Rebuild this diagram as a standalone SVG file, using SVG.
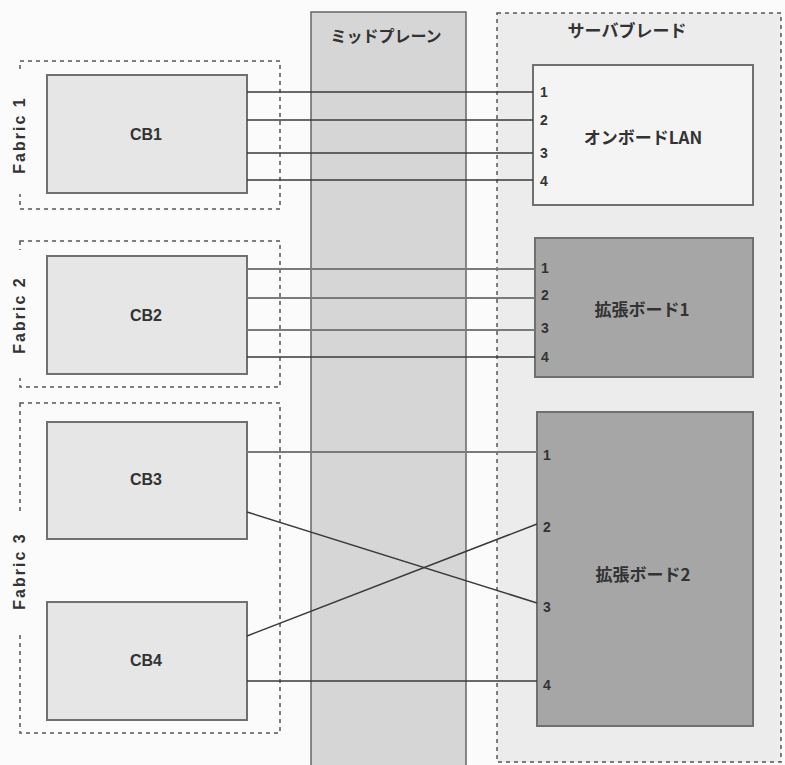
<svg xmlns="http://www.w3.org/2000/svg" width="785" height="765" viewBox="0 0 785 765">
<style>
.fab{fill:none;stroke:#555;stroke-width:1.5;stroke-dasharray:4 4}
.cb{fill:#e6e6e6;stroke:#707070;stroke-width:2}
.ex{fill:#a6a6a6;stroke:#707070;stroke-width:2}
.ln{stroke:#3a3a3a;stroke-width:1.5;fill:none}
.lt{stroke:#7a7a7a;stroke-width:2;fill:none}
.t{font-family:"Liberation Sans","Noto Sans CJK JP",sans-serif;font-weight:bold;fill:#333}
.j{font-family:"Noto Sans CJK JP","Liberation Sans",sans-serif;font-weight:bold;fill:#333;font-size:17px}
.n{font-family:"Liberation Sans",sans-serif;font-weight:bold;fill:#333;font-size:14px}
</style>
<rect width="785" height="765" fill="#fbfbfb"/>
<g id="serverblade">
<rect x="497" y="13" width="284" height="749" fill="#ececec" stroke="#555" stroke-width="1.5" stroke-dasharray="4 4"/>
<text class="j" x="627" y="37" text-anchor="middle" font-size="18">サーバブレード</text>
</g>
<g id="midplane">
<rect x="311" y="12" width="155" height="760" fill="#d6d6d6" stroke="#666" stroke-width="1.5"/>
<text class="j" x="386" y="42" text-anchor="middle" style="font-size:16px">ミッドプレーン</text>
</g>
<g id="fabric1">
<rect class="fab" x="20" y="61" width="260" height="148"/>
<rect x="10" y="72" width="18" height="122" fill="#fbfbfb"/>
<text class="t" font-size="16" letter-spacing="2" transform="translate(25,135) rotate(-90)" text-anchor="middle">Fabric 1</text>
</g>
<g id="fabric2">
<rect class="fab" x="20" y="241" width="260" height="146"/>
<rect x="10" y="250" width="18" height="128" fill="#fbfbfb"/>
<text class="t" font-size="16" letter-spacing="2" transform="translate(25,315) rotate(-90)" text-anchor="middle">Fabric 2</text>
</g>
<g id="fabric3">
<rect class="fab" x="20" y="403" width="260" height="330"/>
<rect x="10" y="513" width="18" height="120" fill="#fbfbfb"/>
<text class="t" font-size="16" letter-spacing="2" transform="translate(25,571) rotate(-90)" text-anchor="middle">Fabric 3</text>
</g>
<g id="cb1"><rect class="cb" x="47" y="75" width="200" height="118"/><text class="t" font-size="16" x="146" y="140" text-anchor="middle">CB1</text></g>
<g id="cb2"><rect class="cb" x="47" y="256" width="200" height="118"/><text class="t" font-size="16" x="146" y="321" text-anchor="middle">CB2</text></g>
<g id="cb3"><rect class="cb" x="47" y="422" width="200" height="117"/><text class="t" font-size="16" x="146" y="485" text-anchor="middle">CB3</text></g>
<g id="cb4"><rect class="cb" x="47" y="602" width="200" height="118"/><text class="t" font-size="16" x="146" y="666" text-anchor="middle">CB4</text></g>
<g id="onboard">
<rect x="533" y="65" width="220" height="140" fill="#f4f4f4" stroke="#707070" stroke-width="2"/>
<text class="j" x="643" y="144" text-anchor="middle">オンボードLAN</text>
<text class="n" x="540" y="97">1</text><text class="n" x="540" y="125">2</text><text class="n" x="540" y="158">3</text><text class="n" x="540" y="186">4</text>
</g>
<g id="exp1">
<rect class="ex" x="535" y="238" width="218" height="139"/>
<text class="j" x="642" y="316" text-anchor="middle">拡張ボード1</text>
<text class="n" x="541" y="273">1</text><text class="n" x="541" y="300">2</text><text class="n" x="541" y="333">3</text><text class="n" x="541" y="362">4</text>
</g>
<g id="exp2">
<rect class="ex" x="537" y="412" width="216" height="314"/>
<text class="j" x="643" y="581" text-anchor="middle">拡張ボード2</text>
<text class="n" x="543" y="460">1</text><text class="n" x="543" y="532">2</text><text class="n" x="543" y="612">3</text><text class="n" x="543" y="690">4</text>
</g>
<g id="connectors">
<line class="ln" x1="247" y1="92" x2="533" y2="92"/>
<line class="ln" x1="247" y1="120" x2="533" y2="120"/>
<line class="ln" x1="247" y1="153" x2="533" y2="153"/>
<line class="ln" x1="247" y1="180" x2="533" y2="180"/>
<line class="lt" x1="247" y1="269" x2="535" y2="269"/>
<line class="lt" x1="247" y1="298" x2="535" y2="298"/>
<line class="lt" x1="247" y1="330" x2="535" y2="330"/>
<line class="ln" x1="247" y1="357" x2="535" y2="357"/>
<line class="lt" x1="247" y1="452" x2="537" y2="452"/>
<line class="ln" x1="247" y1="512" x2="537" y2="603"/>
<line class="ln" x1="247" y1="636" x2="537" y2="524"/>
<line class="ln" x1="247" y1="681" x2="537" y2="681"/>
</g>
</svg>
